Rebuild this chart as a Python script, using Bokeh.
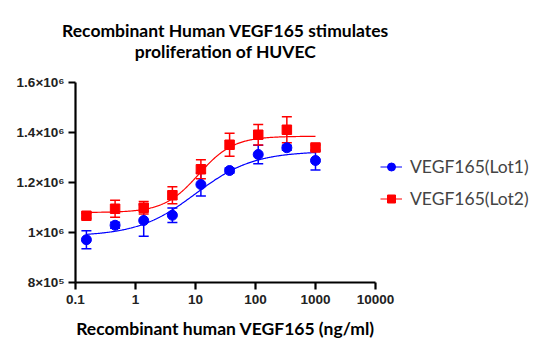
import numpy as np
from bokeh.plotting import figure
from bokeh.models import FixedTicker, Legend, LegendItem, Whisker, ColumnDataSource, Range1d, Title
from bokeh.embed import file_html
from bokeh.resources import INLINE

# ---- data ----
conc = [0.152, 0.457, 1.37, 4.12, 12.3, 37.0, 111.0, 333.0, 1000.0]
lot1 = [0.971e6, 1.029e6, 1.048e6, 1.069e6, 1.192e6, 1.248e6, 1.312e6, 1.339e6, 1.288e6]
lot1_err = [0.036e6, 0.012e6, 0.063e6, 0.029e6, 0.046e6, 0.010e6, 0.037e6, 0.010e6, 0.038e6]
lot2 = [1.067e6, 1.095e6, 1.099e6, 1.149e6, 1.253e6, 1.351e6, 1.391e6, 1.411e6, 1.340e6]
lot2_err = [0.010e6, 0.034e6, 0.025e6, 0.034e6, 0.038e6, 0.046e6, 0.041e6, 0.052e6, 0.010e6]
# 4PL fit parameters (bottom, top, EC50, hill)
fit1 = (0.985e6, 1.325e6, 10.0, 0.9)
fit2 = (1.080e6, 1.385e6, 11.3, 1.5)
labels = ["VEGF165(Lot1)", "VEGF165(Lot2)"]
title_lines = ["Recombinant Human VEGF165 stimulates", "proliferation of HUVEC"]
x_ticks = [0.1, 1, 10, 100, 1000, 10000]
x_tick_labels = ["0.1", "1", "10", "100", "1000", "10000"]
y_ticks = [8e5, 1.0e6, 1.2e6, 1.4e6, 1.6e6]
y_tick_labels = ["8×10⁵", "1×10⁶", "1.2×10⁶", "1.4×10⁶", "1.6×10⁶"]

BLUE = "#0000FF"
RED = "#FF0000"

def fourpl(x, p):
    b, t, ec, h = p
    return b + (t - b) / (1.0 + (ec / x) ** h)

p = figure(frame_width=300, frame_height=200, x_axis_type="log",
           x_range=Range1d(0.1, 10000), y_range=Range1d(8e5, 1.6e6),
           output_backend="svg", toolbar_location=None,
           min_border_left=75, min_border_right=169, min_border_top=82, min_border_bottom=72)
p.outline_line_color = None
p.xgrid.grid_line_color = None
p.ygrid.grid_line_color = None
p.background_fill_color = "white"
p.border_fill_color = "white"

for txt, so in [(title_lines[1], 41), (title_lines[0], -45)]:
    p.add_layout(Title(text=txt, align="center", text_font="Lato", text_font_size="17.5px",
                       text_font_style="bold", text_color="black", standoff=so), "above")

xc = np.logspace(np.log10(conc[0]), np.log10(conc[-1]), 300)
items = []
for y, e, fit, col, marker, lab in [(lot1, lot1_err, fit1, BLUE, "circle", labels[0]),
                                     (lot2, lot2_err, fit2, RED, "square", labels[1])]:
    src = ColumnDataSource(dict(x=conc, y=y,
                                lo=[a - b for a, b in zip(y, e)],
                                hi=[a + b for a, b in zip(y, e)]))
    lr = p.line(xc, fourpl(xc, fit), line_color=col, line_width=1.2)
    w = Whisker(source=src, base="x", lower="lo", upper="hi",
                line_color=col, line_width=1.5)
    w.upper_head.line_color = col
    w.lower_head.line_color = col
    w.upper_head.size = 10
    w.lower_head.size = 10
    w.upper_head.line_width = 1.5
    w.lower_head.line_width = 1.5
    p.add_layout(w)
    sr = p.scatter("x", "y", source=src, marker=marker, size=10 if marker == "circle" else 9.5,
                   fill_color=col, line_color=col)
    items.append(LegendItem(label=lab, renderers=[lr, sr]))

legend = Legend(items=items, location="center_left", margin=5, padding=0,
                border_line_color=None, background_fill_alpha=0,
                label_text_font="Lato", label_text_font_size="17.5px",
                glyph_width=22, glyph_height=20, label_height=20,
                label_standoff=8, spacing=11)
p.add_layout(legend, "right")

for ax in (p.xaxis[0], p.yaxis[0]):
    ax.axis_line_width = 2.2
    ax.axis_line_color = "black"
    ax.major_tick_line_width = 2.2
    ax.major_tick_line_color = "black"
    ax.major_tick_out = 7
    ax.major_tick_in = 0
    ax.minor_tick_line_color = None
    ax.major_label_text_font = "Liberation Sans"
    ax.major_label_text_font_style = "bold"
    ax.major_label_text_font_size = "13.5px"
    ax.major_label_text_color = "#222222"

p.xaxis.ticker = FixedTicker(ticks=x_ticks, minor_ticks=[])
p.xaxis.major_label_overrides = {t: l for t, l in zip(x_ticks, x_tick_labels)}
p.yaxis.ticker = FixedTicker(ticks=y_ticks, minor_ticks=[])
p.yaxis.major_label_overrides = {t: l for t, l in zip(y_ticks, y_tick_labels)}
p.xaxis.major_label_standoff = 5
p.yaxis.major_label_standoff = 4
p.xaxis.axis_label = "Recombinant human VEGF165 (ng/ml)"
p.xaxis.axis_label_text_font = "Lato"
p.xaxis.axis_label_text_font_size = "17.5px"
p.xaxis.axis_label_text_font_style = "bold"
p.xaxis.axis_label_text_color = "black"
p.xaxis.axis_label_standoff = 11

open("out.html", "w").write(file_html(p, INLINE))
